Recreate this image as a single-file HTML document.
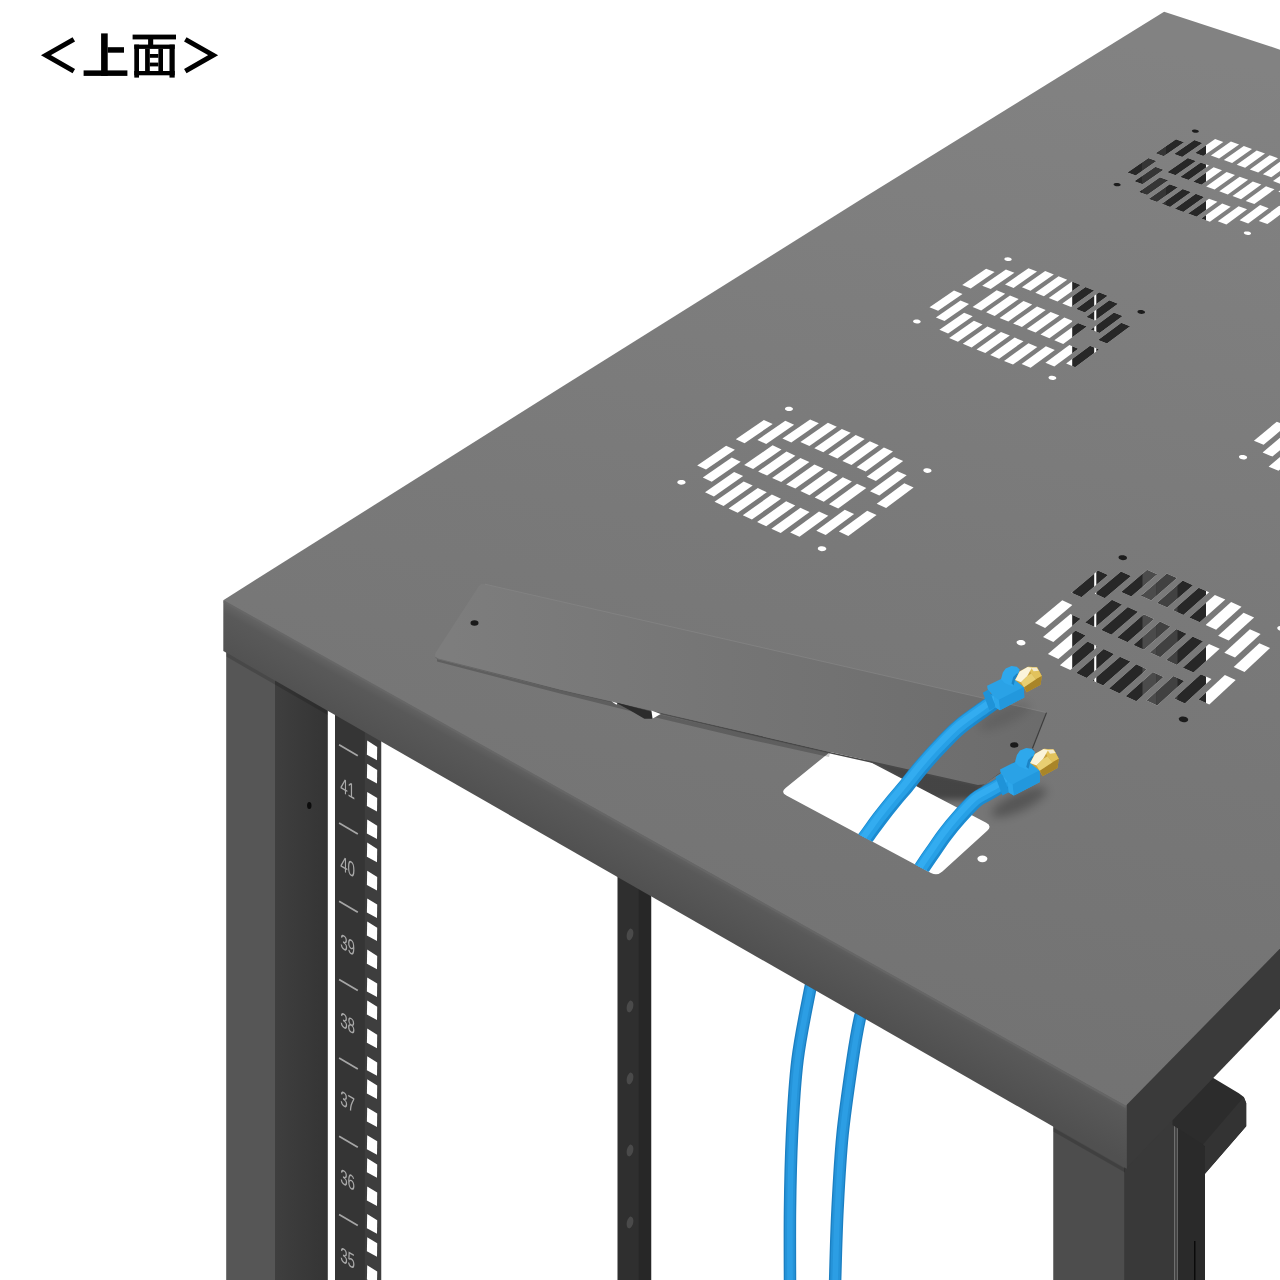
<!DOCTYPE html>
<html><head><meta charset="utf-8"><title>top</title>
<style>html,body{margin:0;padding:0;background:#fff;font-family:"Liberation Sans",sans-serif;}svg{display:block}</style>
</head><body>
<svg width="1280" height="1280" viewBox="0 0 1280 1280">
<defs>
<linearGradient id="gTop" gradientUnits="userSpaceOnUse" x1="1000" y1="20" x2="800" y2="1100"><stop offset="0" stop-color="#828282"/><stop offset="0.5" stop-color="#797979"/><stop offset="1" stop-color="#727272"/></linearGradient>
<linearGradient id="gFront" gradientUnits="userSpaceOnUse" x1="600" y1="810" x2="574" y2="857"><stop offset="0" stop-color="#646464"/><stop offset="0.18" stop-color="#595959"/><stop offset="1" stop-color="#505050"/></linearGradient>
<linearGradient id="gLegD" gradientUnits="userSpaceOnUse" x1="275" y1="0" x2="328" y2="0"><stop offset="0" stop-color="#3f3f3f"/><stop offset="1" stop-color="#343434"/></linearGradient>
<linearGradient id="gPlate" gradientUnits="userSpaceOnUse" x1="450" y1="0" x2="1040" y2="0"><stop offset="0" stop-color="#7d7d7d"/><stop offset="1" stop-color="#6c6c6c"/></linearGradient>
<clipPath id="cSlots"><polygon points="962.2,284.9 970.7,288.4 994.6,272.0 986.1,268.7"/><polygon points="929.5,307.2 938.1,310.7 962.5,294.0 954.0,290.5"/><polygon points="982.2,285.7 990.7,289.1 1014.4,272.8 1005.9,269.4"/><polygon points="935.9,317.4 944.5,321.0 969.0,304.1 960.5,300.6"/><polygon points="1005.0,284.5 1013.6,287.9 1037.0,271.6 1028.5,268.2"/><polygon points="939.4,329.8 948.1,333.4 972.7,316.3 964.1,312.8"/><polygon points="972.6,306.9 981.2,310.4 1005.2,293.7 996.7,290.2"/><polygon points="1021.9,287.3 1030.5,290.8 1053.8,274.4 1045.2,271.1"/><polygon points="949.2,338.1 957.9,341.7 982.6,324.4 973.9,320.8"/><polygon points="986.1,312.3 994.7,315.9 1018.7,299.1 1010.0,295.6"/><polygon points="1035.3,292.7 1043.9,296.2 1067.2,279.7 1058.6,276.3"/><polygon points="962.8,343.7 971.6,347.4 996.1,330.0 987.4,326.4"/><polygon points="999.6,317.9 1008.3,321.4 1032.2,304.5 1023.5,301.0"/><polygon points="1048.8,298.1 1057.5,301.6 1080.7,285.1 1072.0,281.6"/><polygon points="976.5,349.4 985.3,353.1 1009.8,335.6 1001.0,332.0"/><polygon points="1013.1,323.4 1021.9,327.0 1045.7,310.0 1037.0,306.5"/><polygon points="1062.3,303.5 1071.1,307.0 1094.2,290.4 1085.5,287.0"/><polygon points="990.2,355.1 999.1,358.8 1023.5,341.2 1014.7,337.6"/><polygon points="1026.8,329.0 1035.6,332.6 1059.4,315.5 1050.6,311.9"/><polygon points="1076.0,309.0 1084.8,312.5 1107.8,295.8 1099.1,292.3"/><polygon points="1004.0,360.9 1013.0,364.6 1037.3,346.9 1028.5,343.3"/><polygon points="1040.5,334.6 1049.4,338.2 1073.1,321.0 1064.3,317.5"/><polygon points="1086.2,317.0 1095.0,320.6 1118.1,303.7 1109.3,300.2"/><polygon points="1021.6,364.0 1030.6,367.7 1054.8,350.0 1045.9,346.3"/><polygon points="1054.3,340.2 1063.2,343.9 1086.9,326.6 1078.0,323.0"/><polygon points="1090.7,329.4 1099.6,333.0 1122.7,315.9 1113.9,312.4"/><polygon points="1045.4,362.7 1054.3,366.4 1078.3,348.7 1069.4,345.0"/><polygon points="1098.0,339.9 1107.0,343.5 1130.2,326.2 1121.3,322.7"/><polygon points="1066.1,363.5 1075.2,367.2 1099.0,349.5 1090.0,345.8"/><polygon points="1155.5,153.3 1163.7,156.3 1184.1,142.2 1176.0,139.3"/><polygon points="1127.4,172.4 1135.7,175.4 1156.6,161.1 1148.4,158.1"/><polygon points="1174.0,154.0 1182.2,156.9 1202.5,142.9 1194.4,140.0"/><polygon points="1134.3,181.2 1142.6,184.3 1163.6,169.8 1155.4,166.7"/><polygon points="1195.0,153.0 1203.2,155.9 1223.3,141.9 1215.1,139.0"/><polygon points="1138.8,191.9 1147.1,195.0 1168.2,180.3 1159.9,177.2"/><polygon points="1167.2,172.2 1175.5,175.2 1196.1,160.9 1187.8,157.9"/><polygon points="1210.9,155.5 1219.1,158.4 1239.1,144.4 1230.9,141.5"/><polygon points="1148.6,198.9 1157.0,202.0 1178.0,187.3 1169.7,184.2"/><polygon points="1180.1,176.9 1188.5,180.0 1209.0,165.6 1200.7,162.6"/><polygon points="1223.8,160.1 1232.1,163.1 1252.0,149.0 1243.8,146.0"/><polygon points="1161.7,203.8 1170.1,206.9 1191.1,192.1 1182.7,189.0"/><polygon points="1193.1,181.7 1201.5,184.7 1222.0,170.3 1213.6,167.2"/><polygon points="1236.7,164.8 1245.1,167.8 1265.0,153.6 1256.7,150.6"/><polygon points="1174.8,208.7 1183.3,211.9 1204.2,196.9 1195.8,193.8"/><polygon points="1206.2,186.5 1214.6,189.5 1235.0,175.0 1226.6,171.9"/><polygon points="1249.8,169.5 1258.2,172.5 1278.0,158.2 1269.6,155.2"/><polygon points="1188.0,213.6 1196.5,216.8 1217.4,201.8 1209.0,198.7"/><polygon points="1219.3,191.3 1227.8,194.4 1248.1,179.7 1239.7,176.7"/><polygon points="1262.9,174.2 1271.3,177.2 1291.1,162.9 1282.7,159.9"/><polygon points="1201.3,218.6 1209.9,221.8 1230.7,206.7 1222.2,203.5"/><polygon points="1232.5,196.1 1241.0,199.2 1261.3,184.5 1252.8,181.4"/><polygon points="1273.0,181.1 1281.5,184.2 1301.3,169.7 1292.8,166.7"/><polygon points="1217.8,221.3 1226.4,224.5 1247.1,209.3 1238.6,206.2"/><polygon points="1245.7,201.0 1254.3,204.1 1274.5,189.3 1266.0,186.2"/><polygon points="1278.3,191.7 1286.8,194.8 1306.7,180.2 1298.2,177.2"/><polygon points="1239.6,220.2 1248.2,223.4 1268.7,208.2 1260.1,205.1"/><polygon points="1286.0,200.7 1294.6,203.8 1314.5,189.1 1305.9,186.0"/><polygon points="1258.8,220.9 1267.4,224.1 1287.8,208.9 1279.2,205.8"/><polygon points="1071.4,592.7 1081.5,597.3 1108.1,575.1 1098.0,570.6"/><polygon points="1034.9,623.1 1045.1,627.9 1072.4,605.0 1062.3,600.3"/><polygon points="1094.7,593.6 1104.8,598.3 1131.1,576.0 1121.0,571.5"/><polygon points="1043.0,637.1 1053.3,641.9 1080.7,618.7 1070.5,614.0"/><polygon points="1121.1,591.9 1131.3,596.5 1157.3,574.3 1147.1,569.8"/><polygon points="1047.9,654.0 1058.3,658.9 1085.8,635.4 1075.5,630.6"/><polygon points="1085.0,622.5 1095.3,627.2 1122.1,604.4 1111.9,599.7"/><polygon points="1140.9,595.7 1151.2,600.4 1177.0,578.1 1166.8,573.5"/><polygon points="1059.9,665.2 1070.3,670.1 1097.9,646.4 1087.5,641.5"/><polygon points="1101.1,629.9 1111.4,634.7 1138.1,611.7 1127.8,607.0"/><polygon points="1156.9,602.9 1167.3,607.6 1193.0,585.2 1182.7,580.6"/><polygon points="1076.1,672.9 1086.6,677.9 1114.1,653.9 1103.7,649.1"/><polygon points="1117.2,637.4 1127.6,642.2 1154.2,619.0 1143.8,614.3"/><polygon points="1173.0,610.2 1183.4,614.9 1209.1,592.3 1198.7,587.7"/><polygon points="1092.5,680.6 1103.1,685.6 1130.5,661.5 1120.0,656.7"/><polygon points="1133.4,644.9 1143.9,649.7 1170.4,626.4 1160.0,621.6"/><polygon points="1189.2,617.5 1199.7,622.3 1225.3,599.5 1214.9,594.9"/><polygon points="1109.0,688.4 1119.6,693.5 1146.9,669.2 1136.3,664.3"/><polygon points="1149.8,652.4 1160.3,657.3 1186.7,633.8 1176.2,629.0"/><polygon points="1205.6,624.9 1216.1,629.7 1241.5,606.8 1231.1,602.1"/><polygon points="1125.6,696.3 1136.3,701.3 1163.5,676.9 1152.8,672.0"/><polygon points="1166.2,660.0 1176.8,664.9 1203.1,641.3 1192.6,636.5"/><polygon points="1218.1,635.8 1228.7,640.6 1254.1,617.5 1243.6,612.8"/><polygon points="1146.4,700.5 1157.2,705.6 1184.2,681.0 1173.5,676.1"/><polygon points="1182.8,667.7 1193.5,672.6 1219.7,648.8 1209.0,644.0"/><polygon points="1224.3,652.7 1235.0,657.6 1260.6,634.1 1249.9,629.3"/><polygon points="1174.0,698.5 1184.9,703.6 1211.5,679.1 1200.8,674.2"/><polygon points="1233.7,667.0 1244.5,671.9 1270.1,648.1 1259.4,643.3"/><polygon points="1198.4,699.5 1209.3,704.6 1235.7,680.1 1224.9,675.1"/></clipPath>
<clipPath id="cCab"><polygon points="0,0 1280,0 1280,1059.3 0,375.7"/></clipPath>
<linearGradient id="gEdge" gradientUnits="userSpaceOnUse" x1="435" y1="0" x2="760" y2="0"><stop offset="0" stop-color="#686868"/><stop offset="1" stop-color="#484848"/></linearGradient>
<filter id="bl2" x="-30%" y="-50%" width="160%" height="200%"><feGaussianBlur stdDeviation="3"/></filter>
<filter id="bl" x="-50%" y="-50%" width="200%" height="200%"><feGaussianBlur stdDeviation="5"/></filter>
<linearGradient id="gSh" gradientUnits="userSpaceOnUse" x1="924" y1="773" x2="916" y2="808"><stop offset="0" stop-color="#000" stop-opacity="0.32"/><stop offset="1" stop-color="#000" stop-opacity="0.02"/></linearGradient>
</defs>
<polygon points="226.2,640.0 275.0,660.0 275.0,1280.0 226.2,1280.0" fill="#565656" />
<polygon points="275.0,660.0 327.8,700.0 327.8,1280.0 275.0,1280.0" fill="url(#gLegD)" />
<ellipse cx="309.3" cy="805.5" rx="2.2" ry="3.6" fill="#0c0c0c"/>
<rect x="335.00" y="700.00" width="30.00" height="580.00" fill="#353535" />
<rect x="364.80" y="700.00" width="16.45" height="580.00" fill="#3e3e3e" />
<line x1="339.1" y1="744.7" x2="357.8" y2="755.7" stroke="#a6a6a6" stroke-width="1.7"/>
<line x1="339.1" y1="823.0" x2="357.8" y2="834.0" stroke="#a6a6a6" stroke-width="1.7"/>
<line x1="339.1" y1="901.3" x2="357.8" y2="912.3" stroke="#a6a6a6" stroke-width="1.7"/>
<line x1="339.1" y1="979.6" x2="357.8" y2="990.6" stroke="#a6a6a6" stroke-width="1.7"/>
<line x1="339.1" y1="1057.9" x2="357.8" y2="1068.9" stroke="#a6a6a6" stroke-width="1.7"/>
<line x1="339.1" y1="1136.2" x2="357.8" y2="1147.2" stroke="#a6a6a6" stroke-width="1.7"/>
<line x1="339.1" y1="1214.5" x2="357.8" y2="1225.5" stroke="#a6a6a6" stroke-width="1.7"/>
<line x1="339.1" y1="1292.8" x2="357.8" y2="1303.8" stroke="#a6a6a6" stroke-width="1.7"/>
<text transform="matrix(0.64,0.37,0,1,347.6,795.5)" font-family="Liberation Sans, sans-serif" font-size="21" fill="#ababab" text-anchor="middle" opacity="0.99">41</text>
<text transform="matrix(0.64,0.37,0,1,347.6,873.8)" font-family="Liberation Sans, sans-serif" font-size="21" fill="#ababab" text-anchor="middle" opacity="0.99">40</text>
<text transform="matrix(0.64,0.37,0,1,347.6,952.1)" font-family="Liberation Sans, sans-serif" font-size="21" fill="#ababab" text-anchor="middle" opacity="0.99">39</text>
<text transform="matrix(0.64,0.37,0,1,347.6,1030.4)" font-family="Liberation Sans, sans-serif" font-size="21" fill="#ababab" text-anchor="middle" opacity="0.99">38</text>
<text transform="matrix(0.64,0.37,0,1,347.6,1108.7)" font-family="Liberation Sans, sans-serif" font-size="21" fill="#ababab" text-anchor="middle" opacity="0.99">37</text>
<text transform="matrix(0.64,0.37,0,1,347.6,1187.0)" font-family="Liberation Sans, sans-serif" font-size="21" fill="#ababab" text-anchor="middle" opacity="0.99">36</text>
<text transform="matrix(0.64,0.37,0,1,347.6,1265.3)" font-family="Liberation Sans, sans-serif" font-size="21" fill="#ababab" text-anchor="middle" opacity="0.99">35</text>
<polygon points="367.2,740.6 377.2,746.9 377.0,760.2 366.9,754.8" fill="#ffffff" />
<polygon points="367.2,763.8 377.2,770.0 377.0,783.4 366.9,777.9" fill="#ffffff" />
<polygon points="367.2,791.9 377.2,798.1 377.0,811.5 366.9,806.0" fill="#ffffff" />
<polygon points="367.2,819.5 377.2,825.8 377.0,839.1 366.9,833.6" fill="#ffffff" />
<polygon points="367.2,842.6 377.2,848.9 377.0,862.2 366.9,856.8" fill="#ffffff" />
<polygon points="367.2,870.8 377.2,877.0 377.0,890.4 366.9,884.9" fill="#ffffff" />
<polygon points="367.2,898.4 377.2,904.6 377.0,918.0 366.9,912.5" fill="#ffffff" />
<polygon points="367.2,921.5 377.2,927.8 377.0,941.1 366.9,935.6" fill="#ffffff" />
<polygon points="367.2,949.6 377.2,955.9 377.0,969.2 366.9,963.8" fill="#ffffff" />
<polygon points="367.2,977.4 377.2,983.6 377.0,997.0 366.9,991.5" fill="#ffffff" />
<polygon points="367.2,1000.5 377.2,1006.7 377.0,1020.1 366.9,1014.6" fill="#ffffff" />
<polygon points="367.2,1028.6 377.2,1034.8 377.0,1048.2 366.9,1042.7" fill="#ffffff" />
<polygon points="367.2,1056.2 377.2,1062.4 377.0,1075.8 366.9,1070.3" fill="#ffffff" />
<polygon points="367.2,1079.3 377.2,1085.5 377.0,1098.9 366.9,1093.4" fill="#ffffff" />
<polygon points="367.2,1107.5 377.2,1113.6 377.0,1127.0 366.9,1121.5" fill="#ffffff" />
<polygon points="367.2,1135.2 377.2,1141.3 377.0,1154.8 366.9,1149.2" fill="#ffffff" />
<polygon points="367.2,1158.2 377.2,1164.4 377.0,1177.8 366.9,1172.3" fill="#ffffff" />
<polygon points="367.2,1186.4 377.2,1192.5 377.0,1206.0 366.9,1200.5" fill="#ffffff" />
<polygon points="367.2,1214.1 377.2,1220.2 377.0,1233.7 366.9,1228.2" fill="#ffffff" />
<polygon points="367.2,1237.2 377.2,1243.3 377.0,1256.8 366.9,1251.2" fill="#ffffff" />
<polygon points="367.2,1265.3 377.2,1271.5 377.0,1284.9 366.9,1279.4" fill="#ffffff" />
<polygon points="367.2,1293.0 377.2,1299.2 377.0,1312.6 366.9,1307.1" fill="#ffffff" />
<polygon points="367.2,1316.1 377.2,1322.2 377.0,1335.7 366.9,1330.2" fill="#ffffff" />
<polygon points="367.2,1344.2 377.2,1350.4 377.0,1363.8 366.9,1358.3" fill="#ffffff" />
<rect x="617.50" y="860.00" width="22.50" height="420.00" fill="#2f2f2f" />
<rect x="638.75" y="860.00" width="12.50" height="420.00" fill="#272727" />
<ellipse cx="630" cy="934.5" rx="3.2" ry="6" fill="#4a4a4a" transform="rotate(12 630 934.5)"/>
<ellipse cx="630" cy="1006.5" rx="3.2" ry="6" fill="#4a4a4a" transform="rotate(12 630 1006.5)"/>
<ellipse cx="630" cy="1078.5" rx="3.2" ry="6" fill="#4a4a4a" transform="rotate(12 630 1078.5)"/>
<ellipse cx="630" cy="1150.5" rx="3.2" ry="6" fill="#4a4a4a" transform="rotate(12 630 1150.5)"/>
<ellipse cx="630" cy="1222.5" rx="3.2" ry="6" fill="#4a4a4a" transform="rotate(12 630 1222.5)"/>
<rect x="1053.25" y="1100.00" width="71.75" height="180.00" fill="#4d4d4d" />
<rect x="1124.25" y="1100.00" width="50.25" height="180.00" fill="#393939" />
<rect x="1174.50" y="1100.00" width="3.00" height="180.00" fill="#454545" />
<rect x="1177.50" y="1100.00" width="27.50" height="180.00" fill="#2a2a2a" />
<rect x="1194.00" y="1241.00" width="1.50" height="39.00" fill="#0a0a0a" />
<polygon points="1172.5,1110.0 1212.5,1077.5 1238.8,1093.2 1243.8,1097.0 1246.2,1103.0 1246.2,1126.2 1205.0,1173.8 1205.0,1146.2 1203.0,1144.5 1172.5,1125.0" fill="#2c2c2c" />
<polygon points="1243.8,1097.0 1246.2,1103.0 1246.2,1126.2 1205.0,1173.8 1205.0,1146.2 1203.0,1144.5" fill="#333333" />
<g fill="none" stroke-linecap="butt"><path d="M816.0,965.0 C815.0,969.2 813.1,974.2 810.0,990.0 C806.9,1005.8 800.5,1035.8 797.5,1060.0 C794.5,1084.2 793.2,1110.0 792.0,1135.0 C790.8,1160.0 790.3,1185.0 790.0,1210.0 C789.7,1235.0 790.0,1272.5 790.0,1285.0" stroke="#1b7fc2" stroke-width="12.5"/><path d="M816.0,965.0 C815.0,969.2 813.1,974.2 810.0,990.0 C806.9,1005.8 800.5,1035.8 797.5,1060.0 C794.5,1084.2 793.2,1110.0 792.0,1135.0 C790.8,1160.0 790.3,1185.0 790.0,1210.0 C789.7,1235.0 790.0,1272.5 790.0,1285.0" stroke="#2593d8" stroke-width="9.8"/><path d="M816.0,965.0 C815.0,969.2 813.1,974.2 810.0,990.0 C806.9,1005.8 800.5,1035.8 797.5,1060.0 C794.5,1084.2 793.2,1110.0 792.0,1135.0 C790.8,1160.0 790.3,1185.0 790.0,1210.0 C789.7,1235.0 790.0,1272.5 790.0,1285.0" stroke="#2c9ee4" stroke-width="5.6"/></g>
<g fill="none" stroke-linecap="butt"><path d="M865.0,1003.0 C864.2,1005.4 862.1,1008.0 860.0,1017.5 C857.9,1027.0 855.4,1040.4 852.5,1060.0 C849.6,1079.6 845.0,1110.0 842.5,1135.0 C840.0,1160.0 838.8,1185.0 837.5,1210.0 C836.2,1235.0 835.4,1272.5 835.0,1285.0" stroke="#1b7fc2" stroke-width="12.5"/><path d="M865.0,1003.0 C864.2,1005.4 862.1,1008.0 860.0,1017.5 C857.9,1027.0 855.4,1040.4 852.5,1060.0 C849.6,1079.6 845.0,1110.0 842.5,1135.0 C840.0,1160.0 838.8,1185.0 837.5,1210.0 C836.2,1235.0 835.4,1272.5 835.0,1285.0" stroke="#2593d8" stroke-width="9.8"/><path d="M865.0,1003.0 C864.2,1005.4 862.1,1008.0 860.0,1017.5 C857.9,1027.0 855.4,1040.4 852.5,1060.0 C849.6,1079.6 845.0,1110.0 842.5,1135.0 C840.0,1160.0 838.8,1185.0 837.5,1210.0 C836.2,1235.0 835.4,1272.5 835.0,1285.0" stroke="#2c9ee4" stroke-width="5.6"/></g>
<polygon points="1124.8,1103.8 1290.0,936.0 1290.0,998.4 1125.8,1168.8" fill="#3a3a3a" />
<polygon points="223.3,600.2 227.3,600.2 1126.8,1103.8 1126.8,1168.8 223.3,651.0" fill="url(#gFront)" />
<polygon points="1164.1,11.8 1290.0,52.9 1290.0,938.3 1125.8,1105.8 223.3,600.2 560.0,388.0 860.0,200.1" fill="url(#gTop)" />
<line x1="223.8" y1="601.4" x2="1125.8" y2="1107.0" stroke="#686868" stroke-width="2.2" opacity="0.8"/>
<polygon points="226.2,652.5 327.8,711.0 327.8,715.0 226.2,656.5" fill="#000" opacity="0.16"/>
<polygon points="1053.2,1127.5 1125.0,1168.5 1125.0,1172.5 1053.2,1131.5" fill="#000" opacity="0.16"/>
<g fill="#ffffff"><polygon points="735.8,439.2 744.6,443.2 772.7,424.0 763.9,420.0"/><polygon points="697.2,465.5 706.0,469.6 734.9,449.8 726.1,445.8"/><polygon points="757.4,440.0 766.2,444.0 794.1,424.8 785.3,420.8"/><polygon points="702.8,477.5 711.7,481.7 740.7,461.7 731.8,457.6"/><polygon points="782.4,438.5 791.3,442.6 818.9,423.3 810.1,419.4"/><polygon points="705.0,492.2 713.9,496.4 743.1,476.1 734.1,472.0"/><polygon points="744.2,465.0 753.1,469.1 781.5,449.4 772.6,445.3"/><polygon points="800.4,441.9 809.4,445.9 836.8,426.7 827.9,422.7"/><polygon points="714.5,501.8 723.6,506.1 752.7,485.6 743.7,481.5"/><polygon points="758.1,471.4 767.1,475.6 795.4,455.7 786.5,451.6"/><polygon points="814.3,448.2 823.3,452.2 850.7,432.8 841.8,428.9"/><polygon points="728.6,508.5 737.7,512.8 766.8,492.2 757.8,488.0"/><polygon points="772.1,477.9 781.2,482.1 809.4,462.1 800.4,458.0"/><polygon points="828.4,454.5 837.4,458.6 864.7,439.1 855.7,435.1"/><polygon points="742.8,515.2 751.9,519.5 781.0,498.8 771.9,494.6"/><polygon points="786.2,484.4 795.3,488.6 823.5,468.5 814.4,464.4"/><polygon points="842.4,460.9 851.5,465.0 878.8,445.3 869.8,441.3"/><polygon points="757.1,522.0 766.2,526.3 795.3,505.4 786.1,501.2"/><polygon points="800.4,490.9 809.5,495.2 837.7,474.9 828.6,470.8"/><polygon points="856.6,467.3 865.7,471.4 893.0,451.6 883.9,447.6"/><polygon points="771.4,528.7 780.7,533.1 809.6,512.1 800.4,507.8"/><polygon points="814.7,497.5 823.8,501.8 851.9,481.4 842.8,477.3"/><polygon points="866.7,476.7 875.9,480.9 903.2,460.9 894.0,456.9"/><polygon points="790.2,532.4 799.5,536.8 828.3,515.7 819.0,511.4"/><polygon points="829.0,504.2 838.2,508.4 866.3,488.0 857.0,483.8"/><polygon points="870.0,491.3 879.3,495.5 906.7,475.3 897.5,471.2"/><polygon points="816.3,530.7 825.7,535.1 854.1,514.1 844.8,509.8"/><polygon points="876.7,503.7 886.1,507.9 913.6,487.5 904.3,483.3"/><polygon points="838.9,531.6 848.3,536.0 876.6,515.0 867.2,510.7"/></g>
<g fill="#ffffff"><polygon points="962.2,284.9 970.7,288.4 994.6,272.0 986.1,268.7"/><polygon points="929.5,307.2 938.1,310.7 962.5,294.0 954.0,290.5"/><polygon points="982.2,285.7 990.7,289.1 1014.4,272.8 1005.9,269.4"/><polygon points="935.9,317.4 944.5,321.0 969.0,304.1 960.5,300.6"/><polygon points="1005.0,284.5 1013.6,287.9 1037.0,271.6 1028.5,268.2"/><polygon points="939.4,329.8 948.1,333.4 972.7,316.3 964.1,312.8"/><polygon points="972.6,306.9 981.2,310.4 1005.2,293.7 996.7,290.2"/><polygon points="1021.9,287.3 1030.5,290.8 1053.8,274.4 1045.2,271.1"/><polygon points="949.2,338.1 957.9,341.7 982.6,324.4 973.9,320.8"/><polygon points="986.1,312.3 994.7,315.9 1018.7,299.1 1010.0,295.6"/><polygon points="1035.3,292.7 1043.9,296.2 1067.2,279.7 1058.6,276.3"/><polygon points="962.8,343.7 971.6,347.4 996.1,330.0 987.4,326.4"/><polygon points="999.6,317.9 1008.3,321.4 1032.2,304.5 1023.5,301.0"/><polygon points="1048.8,298.1 1057.5,301.6 1080.7,285.1 1072.0,281.6"/><polygon points="976.5,349.4 985.3,353.1 1009.8,335.6 1001.0,332.0"/><polygon points="1013.1,323.4 1021.9,327.0 1045.7,310.0 1037.0,306.5"/><polygon points="1062.3,303.5 1071.1,307.0 1094.2,290.4 1085.5,287.0"/><polygon points="990.2,355.1 999.1,358.8 1023.5,341.2 1014.7,337.6"/><polygon points="1026.8,329.0 1035.6,332.6 1059.4,315.5 1050.6,311.9"/><polygon points="1076.0,309.0 1084.8,312.5 1107.8,295.8 1099.1,292.3"/><polygon points="1004.0,360.9 1013.0,364.6 1037.3,346.9 1028.5,343.3"/><polygon points="1040.5,334.6 1049.4,338.2 1073.1,321.0 1064.3,317.5"/><polygon points="1086.2,317.0 1095.0,320.6 1118.1,303.7 1109.3,300.2"/><polygon points="1021.6,364.0 1030.6,367.7 1054.8,350.0 1045.9,346.3"/><polygon points="1054.3,340.2 1063.2,343.9 1086.9,326.6 1078.0,323.0"/><polygon points="1090.7,329.4 1099.6,333.0 1122.7,315.9 1113.9,312.4"/><polygon points="1045.4,362.7 1054.3,366.4 1078.3,348.7 1069.4,345.0"/><polygon points="1098.0,339.9 1107.0,343.5 1130.2,326.2 1121.3,322.7"/><polygon points="1066.1,363.5 1075.2,367.2 1099.0,349.5 1090.0,345.8"/></g>
<g fill="#ffffff"><polygon points="1155.5,153.3 1163.7,156.3 1184.1,142.2 1176.0,139.3"/><polygon points="1127.4,172.4 1135.7,175.4 1156.6,161.1 1148.4,158.1"/><polygon points="1174.0,154.0 1182.2,156.9 1202.5,142.9 1194.4,140.0"/><polygon points="1134.3,181.2 1142.6,184.3 1163.6,169.8 1155.4,166.7"/><polygon points="1195.0,153.0 1203.2,155.9 1223.3,141.9 1215.1,139.0"/><polygon points="1138.8,191.9 1147.1,195.0 1168.2,180.3 1159.9,177.2"/><polygon points="1167.2,172.2 1175.5,175.2 1196.1,160.9 1187.8,157.9"/><polygon points="1210.9,155.5 1219.1,158.4 1239.1,144.4 1230.9,141.5"/><polygon points="1148.6,198.9 1157.0,202.0 1178.0,187.3 1169.7,184.2"/><polygon points="1180.1,176.9 1188.5,180.0 1209.0,165.6 1200.7,162.6"/><polygon points="1223.8,160.1 1232.1,163.1 1252.0,149.0 1243.8,146.0"/><polygon points="1161.7,203.8 1170.1,206.9 1191.1,192.1 1182.7,189.0"/><polygon points="1193.1,181.7 1201.5,184.7 1222.0,170.3 1213.6,167.2"/><polygon points="1236.7,164.8 1245.1,167.8 1265.0,153.6 1256.7,150.6"/><polygon points="1174.8,208.7 1183.3,211.9 1204.2,196.9 1195.8,193.8"/><polygon points="1206.2,186.5 1214.6,189.5 1235.0,175.0 1226.6,171.9"/><polygon points="1249.8,169.5 1258.2,172.5 1278.0,158.2 1269.6,155.2"/><polygon points="1188.0,213.6 1196.5,216.8 1217.4,201.8 1209.0,198.7"/><polygon points="1219.3,191.3 1227.8,194.4 1248.1,179.7 1239.7,176.7"/><polygon points="1262.9,174.2 1271.3,177.2 1291.1,162.9 1282.7,159.9"/><polygon points="1201.3,218.6 1209.9,221.8 1230.7,206.7 1222.2,203.5"/><polygon points="1232.5,196.1 1241.0,199.2 1261.3,184.5 1252.8,181.4"/><polygon points="1273.0,181.1 1281.5,184.2 1301.3,169.7 1292.8,166.7"/><polygon points="1217.8,221.3 1226.4,224.5 1247.1,209.3 1238.6,206.2"/><polygon points="1245.7,201.0 1254.3,204.1 1274.5,189.3 1266.0,186.2"/><polygon points="1278.3,191.7 1286.8,194.8 1306.7,180.2 1298.2,177.2"/><polygon points="1239.6,220.2 1248.2,223.4 1268.7,208.2 1260.1,205.1"/><polygon points="1286.0,200.7 1294.6,203.8 1314.5,189.1 1305.9,186.0"/><polygon points="1258.8,220.9 1267.4,224.1 1287.8,208.9 1279.2,205.8"/></g>
<g fill="#ffffff"><polygon points="1071.4,592.7 1081.5,597.3 1108.1,575.1 1098.0,570.6"/><polygon points="1034.9,623.1 1045.1,627.9 1072.4,605.0 1062.3,600.3"/><polygon points="1094.7,593.6 1104.8,598.3 1131.1,576.0 1121.0,571.5"/><polygon points="1043.0,637.1 1053.3,641.9 1080.7,618.7 1070.5,614.0"/><polygon points="1121.1,591.9 1131.3,596.5 1157.3,574.3 1147.1,569.8"/><polygon points="1047.9,654.0 1058.3,658.9 1085.8,635.4 1075.5,630.6"/><polygon points="1085.0,622.5 1095.3,627.2 1122.1,604.4 1111.9,599.7"/><polygon points="1140.9,595.7 1151.2,600.4 1177.0,578.1 1166.8,573.5"/><polygon points="1059.9,665.2 1070.3,670.1 1097.9,646.4 1087.5,641.5"/><polygon points="1101.1,629.9 1111.4,634.7 1138.1,611.7 1127.8,607.0"/><polygon points="1156.9,602.9 1167.3,607.6 1193.0,585.2 1182.7,580.6"/><polygon points="1076.1,672.9 1086.6,677.9 1114.1,653.9 1103.7,649.1"/><polygon points="1117.2,637.4 1127.6,642.2 1154.2,619.0 1143.8,614.3"/><polygon points="1173.0,610.2 1183.4,614.9 1209.1,592.3 1198.7,587.7"/><polygon points="1092.5,680.6 1103.1,685.6 1130.5,661.5 1120.0,656.7"/><polygon points="1133.4,644.9 1143.9,649.7 1170.4,626.4 1160.0,621.6"/><polygon points="1189.2,617.5 1199.7,622.3 1225.3,599.5 1214.9,594.9"/><polygon points="1109.0,688.4 1119.6,693.5 1146.9,669.2 1136.3,664.3"/><polygon points="1149.8,652.4 1160.3,657.3 1186.7,633.8 1176.2,629.0"/><polygon points="1205.6,624.9 1216.1,629.7 1241.5,606.8 1231.1,602.1"/><polygon points="1125.6,696.3 1136.3,701.3 1163.5,676.9 1152.8,672.0"/><polygon points="1166.2,660.0 1176.8,664.9 1203.1,641.3 1192.6,636.5"/><polygon points="1218.1,635.8 1228.7,640.6 1254.1,617.5 1243.6,612.8"/><polygon points="1146.4,700.5 1157.2,705.6 1184.2,681.0 1173.5,676.1"/><polygon points="1182.8,667.7 1193.5,672.6 1219.7,648.8 1209.0,644.0"/><polygon points="1224.3,652.7 1235.0,657.6 1260.6,634.1 1249.9,629.3"/><polygon points="1174.0,698.5 1184.9,703.6 1211.5,679.1 1200.8,674.2"/><polygon points="1233.7,667.0 1244.5,671.9 1270.1,648.1 1259.4,643.3"/><polygon points="1198.4,699.5 1209.3,704.6 1235.7,680.1 1224.9,675.1"/></g>
<g fill="#ffffff"><polygon points="1284.5,415.3 1294.1,419.3 1316.4,400.6 1306.8,396.8"/><polygon points="1253.9,440.8 1263.6,444.8 1286.5,425.7 1276.8,421.7"/><polygon points="1305.8,416.2 1315.5,420.1 1337.6,401.4 1327.9,397.6"/><polygon points="1262.6,452.5 1272.4,456.6 1295.3,437.2 1285.5,433.2"/><polygon points="1329.8,414.7 1339.5,418.6 1361.3,400.0 1351.7,396.2"/><polygon points="1268.6,466.7 1278.5,470.8 1301.5,451.2 1291.6,447.1"/><polygon points="1299.6,440.4 1309.4,444.4 1331.8,425.2 1322.1,421.3"/><polygon points="1348.3,418.0 1358.0,421.9 1379.7,403.2 1370.0,399.4"/><polygon points="1280.5,476.1 1290.4,480.2 1313.4,460.4 1303.5,456.3"/><polygon points="1314.9,446.6 1324.7,450.6 1347.1,431.4 1337.3,427.4"/><polygon points="1363.5,424.1 1373.3,428.0 1394.9,409.2 1385.2,405.4"/><polygon points="1296.0,482.6 1306.0,486.7 1328.9,466.8 1319.0,462.7"/><polygon points="1330.3,452.9 1340.2,456.9 1362.4,437.6 1352.5,433.6"/><polygon points="1378.9,430.2 1388.7,434.2 1410.2,415.3 1400.4,411.4"/><polygon points="1311.6,489.1 1321.7,493.2 1344.5,473.2 1334.5,469.1"/><polygon points="1345.7,459.2 1355.7,463.3 1377.8,443.8 1367.9,439.8"/><polygon points="1394.3,436.4 1404.2,440.4 1425.6,421.4 1415.7,417.5"/><polygon points="1327.3,495.6 1337.4,499.8 1360.1,479.6 1350.1,475.5"/><polygon points="1361.3,465.6 1371.3,469.7 1393.4,450.1 1383.4,446.0"/><polygon points="1409.8,442.6 1419.8,446.6 1441.1,427.5 1431.2,423.6"/><polygon points="1343.1,502.2 1353.3,506.4 1375.9,486.1 1365.8,481.9"/><polygon points="1376.9,472.0 1387.0,476.1 1409.0,456.3 1398.9,452.3"/><polygon points="1422.2,451.8 1432.2,455.8 1453.5,436.5 1443.5,432.5"/><polygon points="1362.4,505.7 1372.6,510.0 1395.1,489.6 1384.9,485.4"/><polygon points="1392.7,478.4 1402.8,482.5 1424.7,462.7 1414.6,458.6"/><polygon points="1429.3,465.9 1439.4,470.0 1460.8,450.4 1450.7,446.4"/><polygon points="1387.4,504.1 1397.6,508.4 1419.8,488.0 1409.6,483.8"/><polygon points="1439.0,477.9 1449.3,482.0 1470.7,462.2 1460.5,458.1"/><polygon points="1409.6,505.0 1419.9,509.2 1441.9,488.9 1431.7,484.7"/></g>
<g clip-path="url(#cSlots)">
<rect x="1072.20" y="100.00" width="22.00" height="660.00" fill="#272727" />
<rect x="1096.30" y="100.00" width="109.70" height="660.00" fill="#272727" />
<rect x="1142.50" y="500.00" width="13.75" height="260.00" fill="#525252" opacity="0.85"/>
<rect x="1156.25" y="500.00" width="21.25" height="260.00" fill="#464646" opacity="0.85"/>
<rect x="1142.00" y="100.00" width="24.00" height="160.00" fill="#484848" opacity="0.45"/>
</g>
<polygon points="684.6,483.8 685.3,483.2 685.6,482.5 685.4,481.8 684.9,481.1 684.1,480.5 682.9,480.1 681.7,480.0 680.4,480.0 679.2,480.3 678.2,480.8 677.6,481.4 677.3,482.1 677.4,482.9 678.0,483.6 678.8,484.1 679.9,484.5 681.2,484.7 682.5,484.6 683.7,484.3" fill="#ffffff" />
<polygon points="792.1,410.3 792.7,409.7 792.9,409.0 792.8,408.3 792.2,407.7 791.4,407.2 790.3,406.8 789.1,406.7 787.8,406.7 786.7,407.0 785.8,407.4 785.2,408.0 785.0,408.7 785.1,409.4 785.7,410.0 786.5,410.5 787.6,410.9 788.8,411.0 790.1,411.0 791.2,410.7" fill="#ffffff" />
<polygon points="930.7,472.1 931.3,471.4 931.5,470.7 931.3,470.0 930.7,469.3 929.7,468.8 928.6,468.4 927.3,468.3 926.1,468.3 924.9,468.6 924.0,469.1 923.4,469.7 923.3,470.4 923.5,471.1 924.1,471.8 925.0,472.3 926.1,472.7 927.4,472.9 928.7,472.8 929.8,472.5" fill="#ffffff" />
<polygon points="825.4,550.3 826.1,549.6 826.3,548.9 826.1,548.1 825.5,547.4 824.6,546.8 823.4,546.4 822.1,546.2 820.8,546.3 819.6,546.6 818.6,547.1 818.0,547.8 817.8,548.5 817.9,549.3 818.5,550.0 819.5,550.6 820.6,551.0 821.9,551.2 823.3,551.1 824.5,550.8" fill="#ffffff" />
<polygon points="920.0,322.7 920.5,322.2 920.7,321.6 920.5,321.0 919.9,320.4 919.1,319.9 918.0,319.6 916.8,319.5 915.7,319.5 914.6,319.8 913.8,320.2 913.2,320.7 913.1,321.3 913.2,321.9 913.8,322.5 914.6,323.0 915.7,323.3 916.9,323.4 918.1,323.4 919.1,323.2" fill="#ffffff" />
<polygon points="1011.0,260.4 1011.5,259.9 1011.7,259.3 1011.5,258.8 1010.9,258.2 1010.1,257.8 1009.0,257.5 1007.9,257.3 1006.7,257.4 1005.7,257.6 1004.9,258.0 1004.5,258.5 1004.3,259.0 1004.5,259.6 1005.1,260.2 1005.9,260.6 1007.0,260.9 1008.1,261.0 1009.2,261.0 1010.3,260.8" fill="#ffffff" />
<polygon points="1144.5,313.2 1144.9,312.7 1145.0,312.1 1144.8,311.5 1144.1,310.9 1143.2,310.4 1142.2,310.1 1141.0,310.0 1139.8,310.0 1138.8,310.2 1138.0,310.6 1137.6,311.2 1137.4,311.8 1137.7,312.4 1138.3,312.9 1139.2,313.4 1140.3,313.7 1141.5,313.9 1142.7,313.8 1143.7,313.6" fill="#1c1c1c" />
<polygon points="1055.6,379.2 1056.2,378.6 1056.3,378.0 1056.0,377.3 1055.4,376.7 1054.5,376.2 1053.4,375.9 1052.2,375.7 1051.0,375.8 1049.9,376.0 1049.1,376.5 1048.6,377.0 1048.5,377.7 1048.7,378.3 1049.3,378.9 1050.2,379.4 1051.3,379.8 1052.5,379.9 1053.7,379.9 1054.8,379.6" fill="#ffffff" />
<polygon points="1120.1,185.7 1120.5,185.3 1120.7,184.8 1120.4,184.2 1119.8,183.7 1119.0,183.3 1118.0,183.0 1116.9,182.9 1115.8,183.0 1114.9,183.2 1114.1,183.5 1113.7,184.0 1113.6,184.5 1113.8,185.0 1114.4,185.5 1115.2,185.9 1116.2,186.2 1117.3,186.3 1118.4,186.3 1119.4,186.1" fill="#1c1c1c" />
<polygon points="1198.3,132.2 1198.7,131.8 1198.8,131.3 1198.5,130.8 1198.0,130.3 1197.1,130.0 1196.1,129.7 1195.1,129.6 1194.0,129.6 1193.1,129.8 1192.4,130.1 1192.0,130.6 1191.9,131.0 1192.2,131.5 1192.8,132.0 1193.6,132.4 1194.6,132.7 1195.6,132.8 1196.7,132.7 1197.6,132.5" fill="#1c1c1c" />
<polygon points="1326.5,177.9 1326.9,177.4 1326.9,176.9 1326.6,176.4 1326.0,175.9 1325.1,175.5 1324.1,175.2 1323.0,175.1 1321.9,175.1 1321.0,175.4 1320.3,175.7 1319.9,176.1 1319.9,176.7 1320.2,177.2 1320.8,177.7 1321.7,178.1 1322.7,178.4 1323.8,178.5 1324.9,178.4 1325.8,178.2" fill="#ffffff" />
<polygon points="1250.6,234.3 1251.0,233.8 1251.0,233.3 1250.8,232.7 1250.1,232.2 1249.3,231.8 1248.2,231.5 1247.1,231.4 1246.0,231.4 1245.0,231.6 1244.3,232.0 1243.9,232.5 1243.8,233.0 1244.1,233.6 1244.7,234.1 1245.6,234.5 1246.6,234.8 1247.8,234.9 1248.9,234.9 1249.8,234.7" fill="#ffffff" />
<polygon points="1024.7,644.4 1025.3,643.7 1025.5,642.8 1025.2,642.0 1024.5,641.2 1023.5,640.6 1022.2,640.1 1020.9,640.0 1019.5,640.0 1018.3,640.4 1017.3,640.9 1016.7,641.6 1016.6,642.5 1016.8,643.3 1017.5,644.1 1018.5,644.7 1019.8,645.2 1021.2,645.4 1022.6,645.3 1023.8,645.0" fill="#ffffff" />
<polygon points="1126.4,559.3 1126.9,558.6 1127.0,557.8 1126.7,557.1 1126.1,556.3 1125.0,555.8 1123.8,555.3 1122.5,555.2 1121.2,555.2 1120.0,555.5 1119.1,556.1 1118.6,556.7 1118.5,557.5 1118.8,558.3 1119.4,559.0 1120.5,559.6 1121.7,560.0 1123.0,560.2 1124.3,560.1 1125.5,559.8" fill="#1c1c1c" />
<polygon points="1285.6,630.3 1286.1,629.6 1286.2,628.8 1285.8,627.9 1285.1,627.2 1284.0,626.5 1282.7,626.1 1281.3,625.9 1280.0,626.0 1278.8,626.3 1277.9,626.8 1277.4,627.6 1277.3,628.4 1277.7,629.2 1278.5,630.0 1279.6,630.6 1280.9,631.0 1282.2,631.2 1283.6,631.2 1284.8,630.8" fill="#ffffff" />
<polygon points="1187.4,721.2 1188.0,720.4 1188.1,719.6 1187.7,718.6 1187.0,717.8 1185.9,717.1 1184.5,716.7 1183.1,716.5 1181.7,716.5 1180.5,716.9 1179.5,717.5 1179.0,718.3 1178.9,719.2 1179.2,720.1 1179.9,720.9 1181.0,721.6 1182.4,722.0 1183.8,722.2 1185.2,722.2 1186.5,721.8" fill="#1c1c1c" />
<polygon points="1246.6,458.6 1247.0,458.0 1247.1,457.3 1246.8,456.6 1246.1,456.0 1245.1,455.4 1243.9,455.1 1242.7,454.9 1241.4,455.0 1240.3,455.2 1239.5,455.7 1239.0,456.3 1239.0,457.0 1239.3,457.7 1240.0,458.4 1241.0,458.9 1242.2,459.3 1243.4,459.4 1244.7,459.4 1245.8,459.1" fill="#ffffff" />
<polygon points="1331.7,387.3 1332.2,386.7 1332.2,386.1 1331.9,385.4 1331.2,384.8 1330.2,384.3 1329.1,384.0 1327.8,383.8 1326.6,383.9 1325.6,384.1 1324.8,384.6 1324.4,385.1 1324.4,385.8 1324.7,386.4 1325.4,387.1 1326.4,387.6 1327.5,387.9 1328.8,388.0 1330.0,388.0 1331.0,387.7" fill="#ffffff" />
<polygon points="1483.3,447.3 1483.7,446.7 1483.7,446.0 1483.3,445.3 1482.5,444.7 1481.5,444.1 1480.3,443.8 1479.0,443.6 1477.8,443.7 1476.7,443.9 1476.0,444.4 1475.6,445.0 1475.6,445.7 1476.0,446.4 1476.8,447.0 1477.8,447.5 1479.0,447.9 1480.3,448.1 1481.5,448.0 1482.6,447.7" fill="#ffffff" />
<polygon points="1401.5,523.1 1401.9,522.4 1401.9,521.7 1401.5,520.9 1400.8,520.2 1399.7,519.7 1398.5,519.3 1397.1,519.1 1395.9,519.2 1394.8,519.5 1394.0,519.9 1393.5,520.6 1393.5,521.3 1393.9,522.1 1394.6,522.8 1395.7,523.4 1397.0,523.7 1398.3,523.9 1399.6,523.9 1400.7,523.6" fill="#ffffff" />
<g filter="url(#bl2)"><polygon points="850.0,752.0 985.0,782.0 980.0,800.0 930.0,800.0" fill="#000" opacity="0.42"/></g>
<path d="M786.4,795.6 Q780.2,792.3 785.6,787.9 L832.8,749.7 Q838.2,745.3 844.4,748.5 L986.2,822.8 Q992.4,826.0 987.2,830.7 L942.4,871.5 Q937.2,876.2 931.0,872.9 Z" fill="#ffffff"/>
<ellipse cx="982.4" cy="858.8" rx="5" ry="3.4" fill="#ffffff"/>
<polygon points="437.0,659.0 560.0,690.5 660.0,714.5 830.0,753.0 829.0,757.0 740.0,737.5 660.0,718.5 560.0,693.5 437.0,661.5" fill="#000" opacity="0.2"/>
<polygon points="436.0,658.5 560.0,691.0 830.0,753.5 980.0,787.0 1034.0,750.0 1032.5,748.3 982.0,785.0 830.0,751.9 560.0,689.4 435.0,656.5" fill="url(#gEdge)" />
<polygon points="479.0,586.0 481.0,584.0 485.0,584.2 1046.5,712.6 1032.5,748.3 985.0,784.0 978.0,785.0 830.0,751.9 560.0,689.4 438.0,658.5 435.0,656.5 435.5,653.0" fill="url(#gPlate)" />
<line x1="485" y1="584.2" x2="1046.5" y2="712.6" stroke="#848484" stroke-width="1" opacity="0.8"/>
<line x1="1046.5" y1="712.6" x2="1032.5" y2="748.3" stroke="#3c3c3c" stroke-width="1.2"/>
<ellipse cx="474.5" cy="623" rx="4" ry="2.7" fill="#1a1a1a"/>
<ellipse cx="1014.3" cy="745" rx="4.2" ry="2.7" fill="#1a1a1a"/>
<polygon points="615.1,702.3 660.8,714.0 652.6,718.7 644.4,718.7 630.3,710.5" fill="#2c2c2c" />
<polygon points="651.4,710.5 660.8,714.0 652.6,718.7" fill="#ffffff" />
<polygon points="611.6,701.5 617.4,703.0 616.5,704.8" fill="#ffffff" />
<g fill="none" stroke-linecap="butt" clip-path="url(#cCab)"><path d="M998.0,699.0 C996.2,700.3 993.8,702.0 987.5,706.6 C981.2,711.2 968.3,719.7 960.3,726.4 C952.3,733.1 945.9,740.1 939.3,747.0 C932.7,753.9 926.4,761.1 920.8,767.7 C915.2,774.3 910.2,781.2 905.7,786.6 C901.2,792.0 898.3,795.1 894.1,800.3 C889.9,805.4 884.8,811.8 880.4,817.5 C876.0,823.2 872.0,829.0 867.8,834.7 C863.6,840.5 858.3,847.3 855.0,852.0 C851.7,856.7 849.2,861.2 848.0,863.0" stroke="#1c8bd0" stroke-width="16.0"/><path d="M998.0,699.0 C996.2,700.3 993.8,702.0 987.5,706.6 C981.2,711.2 968.3,719.7 960.3,726.4 C952.3,733.1 945.9,740.1 939.3,747.0 C932.7,753.9 926.4,761.1 920.8,767.7 C915.2,774.3 910.2,781.2 905.7,786.6 C901.2,792.0 898.3,795.1 894.1,800.3 C889.9,805.4 884.8,811.8 880.4,817.5 C876.0,823.2 872.0,829.0 867.8,834.7 C863.6,840.5 858.3,847.3 855.0,852.0 C851.7,856.7 849.2,861.2 848.0,863.0" stroke="#27a0e6" stroke-width="12.5" transform="translate(-0.7,-0.7)"/><path d="M998.0,699.0 C996.2,700.3 993.8,702.0 987.5,706.6 C981.2,711.2 968.3,719.7 960.3,726.4 C952.3,733.1 945.9,740.1 939.3,747.0 C932.7,753.9 926.4,761.1 920.8,767.7 C915.2,774.3 910.2,781.2 905.7,786.6 C901.2,792.0 898.3,795.1 894.1,800.3 C889.9,805.4 884.8,811.8 880.4,817.5 C876.0,823.2 872.0,829.0 867.8,834.7 C863.6,840.5 858.3,847.3 855.0,852.0 C851.7,856.7 849.2,861.2 848.0,863.0" stroke="#33acf0" stroke-width="6.4" transform="translate(-1.6,-1.6)"/></g>
<g fill="none" stroke-linecap="butt" clip-path="url(#cCab)"><path d="M1008.0,780.0 C1006.4,781.1 1002.1,784.3 998.5,786.6 C994.9,788.9 990.0,791.3 986.1,793.6 C982.2,795.9 979.9,796.3 975.4,800.3 C970.9,804.3 964.0,811.8 958.9,817.5 C953.8,823.2 949.1,829.0 944.8,834.7 C940.4,840.4 936.4,846.8 932.8,851.9 C929.2,857.0 926.4,861.1 923.4,865.6 C920.4,870.1 917.4,874.9 915.0,879.0 C912.6,883.1 910.0,888.2 909.0,890.0" stroke="#1c8bd0" stroke-width="16.0"/><path d="M1008.0,780.0 C1006.4,781.1 1002.1,784.3 998.5,786.6 C994.9,788.9 990.0,791.3 986.1,793.6 C982.2,795.9 979.9,796.3 975.4,800.3 C970.9,804.3 964.0,811.8 958.9,817.5 C953.8,823.2 949.1,829.0 944.8,834.7 C940.4,840.4 936.4,846.8 932.8,851.9 C929.2,857.0 926.4,861.1 923.4,865.6 C920.4,870.1 917.4,874.9 915.0,879.0 C912.6,883.1 910.0,888.2 909.0,890.0" stroke="#27a0e6" stroke-width="12.5" transform="translate(-0.7,-0.7)"/><path d="M1008.0,780.0 C1006.4,781.1 1002.1,784.3 998.5,786.6 C994.9,788.9 990.0,791.3 986.1,793.6 C982.2,795.9 979.9,796.3 975.4,800.3 C970.9,804.3 964.0,811.8 958.9,817.5 C953.8,823.2 949.1,829.0 944.8,834.7 C940.4,840.4 936.4,846.8 932.8,851.9 C929.2,857.0 926.4,861.1 923.4,865.6 C920.4,870.1 917.4,874.9 915.0,879.0 C912.6,883.1 910.0,888.2 909.0,890.0" stroke="#33acf0" stroke-width="6.4" transform="translate(-1.6,-1.6)"/></g>
<g transform="translate(-15,-83.1) translate(1030,763.1) scale(0.93) translate(-1030,-763.1)"><g><ellipse cx="1019" cy="802" rx="30" ry="9" fill="#000" opacity="0.1" filter="url(#bl)" transform="rotate(-25 1019 802)"/><polygon points="995.4,776.9 1001.9,773.1 1009.4,791.9 1002.5,795.6" fill="#1f93d8" /><polygon points="1000.0,769.4 1015.0,761.9 1030.6,762.5 1039.4,770.6 1040.0,781.9 1013.8,795.6 1008.8,792.5 1007.5,781.2 1000.6,773.1" fill="#2aa2e6" /><polygon points="1013.8,795.6 1040.0,781.9 1039.4,770.6 1012.5,784.4" fill="#2298dd" /><polygon points="1008.8,792.5 1013.8,795.6 1012.5,784.4 1007.5,781.2" fill="#2da6ea" /><polygon points="1015.0,761.9 1016.9,755.0 1020.0,750.6 1026.2,748.1 1031.9,748.8 1035.0,751.9 1033.8,756.2 1030.0,763.1 1027.5,770.0 1018.8,766.2" fill="#2ea8ec" /><polygon points="1028.1,760.0 1031.9,756.2 1033.8,756.2 1030.0,763.1 1028.5,768.8 1026.2,766.9" fill="#1b84c6" /><polygon points="1030.0,763.1 1035.0,753.8 1043.8,748.8 1053.8,749.4 1058.8,758.8 1057.5,768.1 1042.5,776.2 1039.4,770.6" fill="#c9a23e" /><polygon points="1043.8,748.8 1053.8,749.4 1058.8,758.8 1052.5,762.2 1047.5,756.2" fill="#e2c25c" /><polygon points="1042.5,776.2 1057.5,768.1 1058.8,758.8 1052.5,762.2 1040.0,770.6" fill="#a98528" /><polygon points="1030.2,763.1 1035.0,754.0 1043.5,749.1 1048.1,750.0 1043.1,759.0 1036.5,765.6" fill="#fbf4da" /><polygon points="1036.5,765.6 1043.1,759.0 1047.5,756.2 1052.5,762.2 1040.0,770.6 1039.4,770.6" fill="#e8cf72" /><polygon points="1047.5,750.0 1053.1,749.6 1055.6,753.1 1050.0,753.8" fill="#f3ead0" /></g></g>
<g><ellipse cx="1019" cy="802" rx="30" ry="9" fill="#000" opacity="0.27" filter="url(#bl)" transform="rotate(-25 1019 802)"/><polygon points="995.4,776.9 1001.9,773.1 1009.4,791.9 1002.5,795.6" fill="#1f93d8" /><polygon points="1000.0,769.4 1015.0,761.9 1030.6,762.5 1039.4,770.6 1040.0,781.9 1013.8,795.6 1008.8,792.5 1007.5,781.2 1000.6,773.1" fill="#2aa2e6" /><polygon points="1013.8,795.6 1040.0,781.9 1039.4,770.6 1012.5,784.4" fill="#2298dd" /><polygon points="1008.8,792.5 1013.8,795.6 1012.5,784.4 1007.5,781.2" fill="#2da6ea" /><polygon points="1015.0,761.9 1016.9,755.0 1020.0,750.6 1026.2,748.1 1031.9,748.8 1035.0,751.9 1033.8,756.2 1030.0,763.1 1027.5,770.0 1018.8,766.2" fill="#2ea8ec" /><polygon points="1028.1,760.0 1031.9,756.2 1033.8,756.2 1030.0,763.1 1028.5,768.8 1026.2,766.9" fill="#1b84c6" /><polygon points="1030.0,763.1 1035.0,753.8 1043.8,748.8 1053.8,749.4 1058.8,758.8 1057.5,768.1 1042.5,776.2 1039.4,770.6" fill="#c9a23e" /><polygon points="1043.8,748.8 1053.8,749.4 1058.8,758.8 1052.5,762.2 1047.5,756.2" fill="#e2c25c" /><polygon points="1042.5,776.2 1057.5,768.1 1058.8,758.8 1052.5,762.2 1040.0,770.6" fill="#a98528" /><polygon points="1030.2,763.1 1035.0,754.0 1043.5,749.1 1048.1,750.0 1043.1,759.0 1036.5,765.6" fill="#fbf4da" /><polygon points="1036.5,765.6 1043.1,759.0 1047.5,756.2 1052.5,762.2 1040.0,770.6 1039.4,770.6" fill="#e8cf72" /><polygon points="1047.5,750.0 1053.1,749.6 1055.6,753.1 1050.0,753.8" fill="#f3ead0" /></g>
<g fill="none" stroke="#000" stroke-width="5" stroke-linejoin="miter" stroke-miterlimit="10">
<polyline points="73.8,39.4 46,55.2 73.8,71.1"/>
<polyline points="185.3,39.4 213.1,55.2 185.3,71.1"/>
</g>
<g fill="#000">
<rect x="101.10" y="33.40" width="6.60" height="42.50" fill="#000" />
<rect x="107.70" y="47.20" width="16.30" height="5.50" fill="#000" />
<rect x="83.60" y="70.40" width="43.80" height="5.50" fill="#000" />
<rect x="132.60" y="34.60" width="43.40" height="4.80" fill="#000" />
<rect x="148.10" y="39.00" width="5.10" height="6.00" fill="#000" />
<rect x="134.30" y="44.60" width="4.70" height="33.00" fill="#000" />
<rect x="169.50" y="44.60" width="5.20" height="33.00" fill="#000" />
<rect x="134.30" y="44.60" width="40.40" height="4.30" fill="#000" />
<rect x="134.30" y="71.00" width="40.40" height="4.30" fill="#000" />
<rect x="145.10" y="48.90" width="4.70" height="22.10" fill="#000" />
<rect x="158.40" y="48.90" width="4.60" height="22.10" fill="#000" />
<rect x="149.80" y="54.00" width="8.60" height="3.80" fill="#000" />
<rect x="149.80" y="62.60" width="8.60" height="3.80" fill="#000" />
</g>
</svg>
</body></html>
